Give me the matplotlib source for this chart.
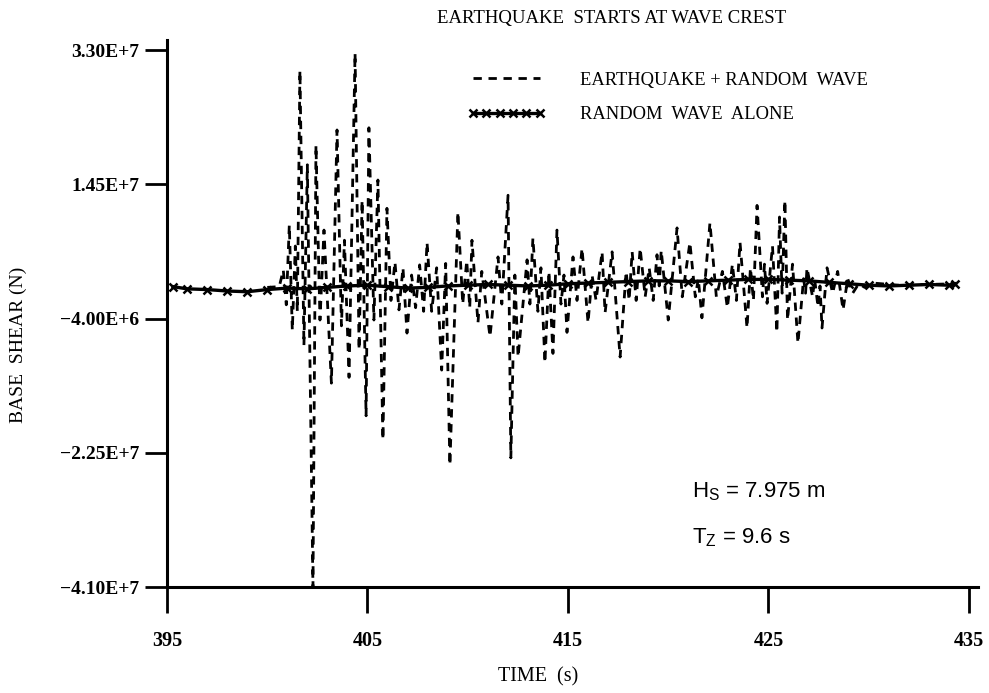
import matplotlib.pyplot as plt

# earthquake + random wave: successive peaks / troughs (N, in 1e6)
eq_time = [
    400.0, 400.6, 400.8, 400.95, 401.1, 401.25, 401.4, 401.5, 401.63, 401.83,
    402.0, 402.28, 402.43, 402.63, 402.83, 403.2, 403.48, 403.7, 403.85, 404.08,
    404.38, 404.58, 404.73, 404.93, 405.07, 405.32, 405.52, 405.77, 405.97, 406.17,
    406.37, 406.57, 406.77, 406.97, 407.2, 407.4, 407.6, 407.8, 407.97, 408.2,
    408.45, 408.7, 408.9, 409.11, 409.51, 409.75, 409.95, 410.1, 410.21, 410.51,
    410.7, 411.11, 411.51, 411.7, 412.01, 412.15, 412.35, 412.51, 412.96, 413.1,
    413.25, 413.5, 413.65, 413.85, 414.05, 414.25, 414.45, 414.65, 414.8, 414.95,
    415.25, 415.45, 415.7, 416.0, 416.2, 416.4, 416.7, 416.85, 417.2, 417.6,
    417.9, 418.05, 418.2, 418.4, 418.6, 418.85, 419.05, 419.25, 419.44, 419.55,
    419.65, 420.0, 420.44, 420.7, 421.08, 421.35, 421.5, 421.68, 422.08, 422.4,
    422.7, 422.95, 423.2, 423.4, 423.58, 423.93, 424.1, 424.25, 424.43, 424.7,
    424.8, 424.93, 425.2, 425.42, 425.55, 425.68, 425.82, 425.95, 426.2, 426.47,
    426.75, 426.85, 426.92, 427.2, 427.3, 427.47, 427.57, 427.67, 427.92, 428.2,
    428.45, 428.72, 428.95, 429.2, 429.5, 429.8, 430.2, 431.5, 433.0, 434.2,
]
eq_shear = [
    0.3, 0.4, 2.7, -2.1, 8.9, -5.6, 6.0, -3.0, 30.2, -7.7,
    17.2, -41.0, 19.9, -4.2, 8.2, -12.9, 22.0, -5.0, 6.8, -12.1,
    32.6, -8.3, 12.3, -17.4, 22.3, -4.2, 15.1, -20.7, 11.2, -1.5,
    3.8, -2.8, 3.0, -6.0, 2.0, -2.5, 3.4, -3.0, 6.5, -3.0,
    3.0, -11.1, 3.6, -24.2, 10.7, -2.0, 4.0, -2.5, 6.8, -4.6,
    2.5, -6.5, 4.5, -2.0, 13.0, -23.2, 2.0, -9.3, 4.1, -2.0,
    7.1, -3.0, 3.0, -10.1, 2.5, -8.8, 8.2, -2.0, 2.0, -5.9,
    4.5, -1.5, 5.7, -4.6, 2.0, -1.5, 5.2, -3.2, 5.2, -9.3,
    2.5, -1.5, 5.2, -1.5, 5.7, -1.0, 3.0, -1.5, 4.8, 0.5,
    5.4, -4.2, 8.5, -1.0, 6.5, -1.0, 1.5, -3.9, 9.2, -1.0,
    2.5, -2.5, 3.5, -1.5, 6.5, -5.3, 3.0, -1.5, 11.6, -1.0,
    3.5, -1.9, 6.0, -5.9, 10.0, -0.5, 12.3, -4.2, 3.5, -7.4,
    1.5, -0.5, 3.0, -1.0, 1.5, -2.4, 0.5, -5.3, 3.0, -0.5,
    2.5, -2.8, 1.5, -0.5, 0.8, 0.3, 0.9, 0.6, 0.7, 0.8,
]

# random wave alone (N, in 1e6)
rw_time = [
    395.3, 396, 397, 398, 399, 400, 401, 402, 403, 404, 405, 406, 407, 408,
    409, 410, 411, 412, 413, 414, 415, 416, 417, 418, 419, 420, 421, 422,
    423, 424, 425, 426, 427, 428, 429, 430, 431, 432, 433, 434, 434.3,
]
rw_shear = [
    0.4, 0.1, 0.0, -0.2, -0.3, 0.0, 0.2, 0.1, 0.3, 0.5, 0.6, 0.4, 0.2, 0.3,
    0.5, 0.6, 0.7, 0.6, 0.5, 0.6, 0.8, 0.9, 1.0, 1.1, 1.2, 1.2, 1.1, 1.2,
    1.3, 1.4, 1.4, 1.3, 1.2, 1.0, 0.8, 0.6, 0.5, 0.6, 0.7, 0.6, 0.8,
]

yticks = [3.3e7, 1.45e7, -4.0e6, -2.25e7, -4.1e7]
ytick_labels = ['3.30E+7', '1.45E+7', '\u22124.00E+6', '\u22122.25E+7', '\u22124.10E+7']
xticks = [395, 405, 415, 425, 435]

serif = 'Liberation Serif'
sans = 'Liberation Sans'

fig = plt.figure(figsize=(9.89, 6.93), dpi=100)
ax = fig.add_axes([167 / 989, 1 - 587 / 693, (978 - 167) / 989, (587 - 40) / 693])

ax.plot(eq_time, [v * 1e6 for v in eq_shear], color='black', linewidth=2.0,
        dashes=(3.0, 2.4), label='EARTHQUAKE + RANDOM  WAVE', zorder=2)
ax.plot(rw_time, [v * 1e6 for v in rw_shear], color='black', linewidth=2.4,
        marker='x', markersize=6, markeredgewidth=1.8, label='RANDOM  WAVE  ALONE', zorder=3)

ax.set_xlim(395, 435.45)
ax.set_ylim(-4.1e7, 3.44e7)

for s in ['top', 'right']:
    ax.spines[s].set_visible(False)
for s in ['left', 'bottom']:
    ax.spines[s].set_linewidth(2.2)

ax.set_yticks(yticks)
ax.set_yticklabels(ytick_labels, fontfamily=serif, fontweight='bold', fontsize=14)
ax.set_xticks(xticks)
ax.set_xticklabels([str(t) for t in xticks], fontfamily=serif, fontweight='bold', fontsize=14.5)
ax.tick_params(axis='y', direction='out', length=16, width=2, pad=4)
ax.tick_params(axis='x', direction='out', length=19, width=2, pad=13)

leg = ax.legend(loc='upper left', bbox_to_anchor=(0.35, 0.972), frameon=False,
                handlelength=4.2, handletextpad=1.9, labelspacing=0.95, numpoints=6,
                prop={'family': serif, 'size': 13.3})

fig.text(612 / 989, 1 - 18 / 693, 'EARTHQUAKE  STARTS AT WAVE CREST', family=serif,
         fontsize=13.5, ha='center', va='center')
fig.text(18 / 989, 1 - 345 / 693, 'BASE  SHEAR (N)', family=serif, fontsize=14,
         rotation=90, ha='center', va='center')
fig.text(538 / 989, 1 - 677 / 693, 'TIME  (s)', family=serif, fontsize=14.5,
         ha='center', va='center')
fig.text(692 / 989, 1 - 492 / 693, r'H$_\mathregular{S}$ = 7.975 m', family=sans,
         fontsize=16, ha='left', va='center')
fig.text(692 / 989, 1 - 538 / 693, r'T$_\mathregular{Z}$ = 9.6 s', family=sans,
         fontsize=16, ha='left', va='center')

fig.savefig('out.png', dpi=100, facecolor='white')
